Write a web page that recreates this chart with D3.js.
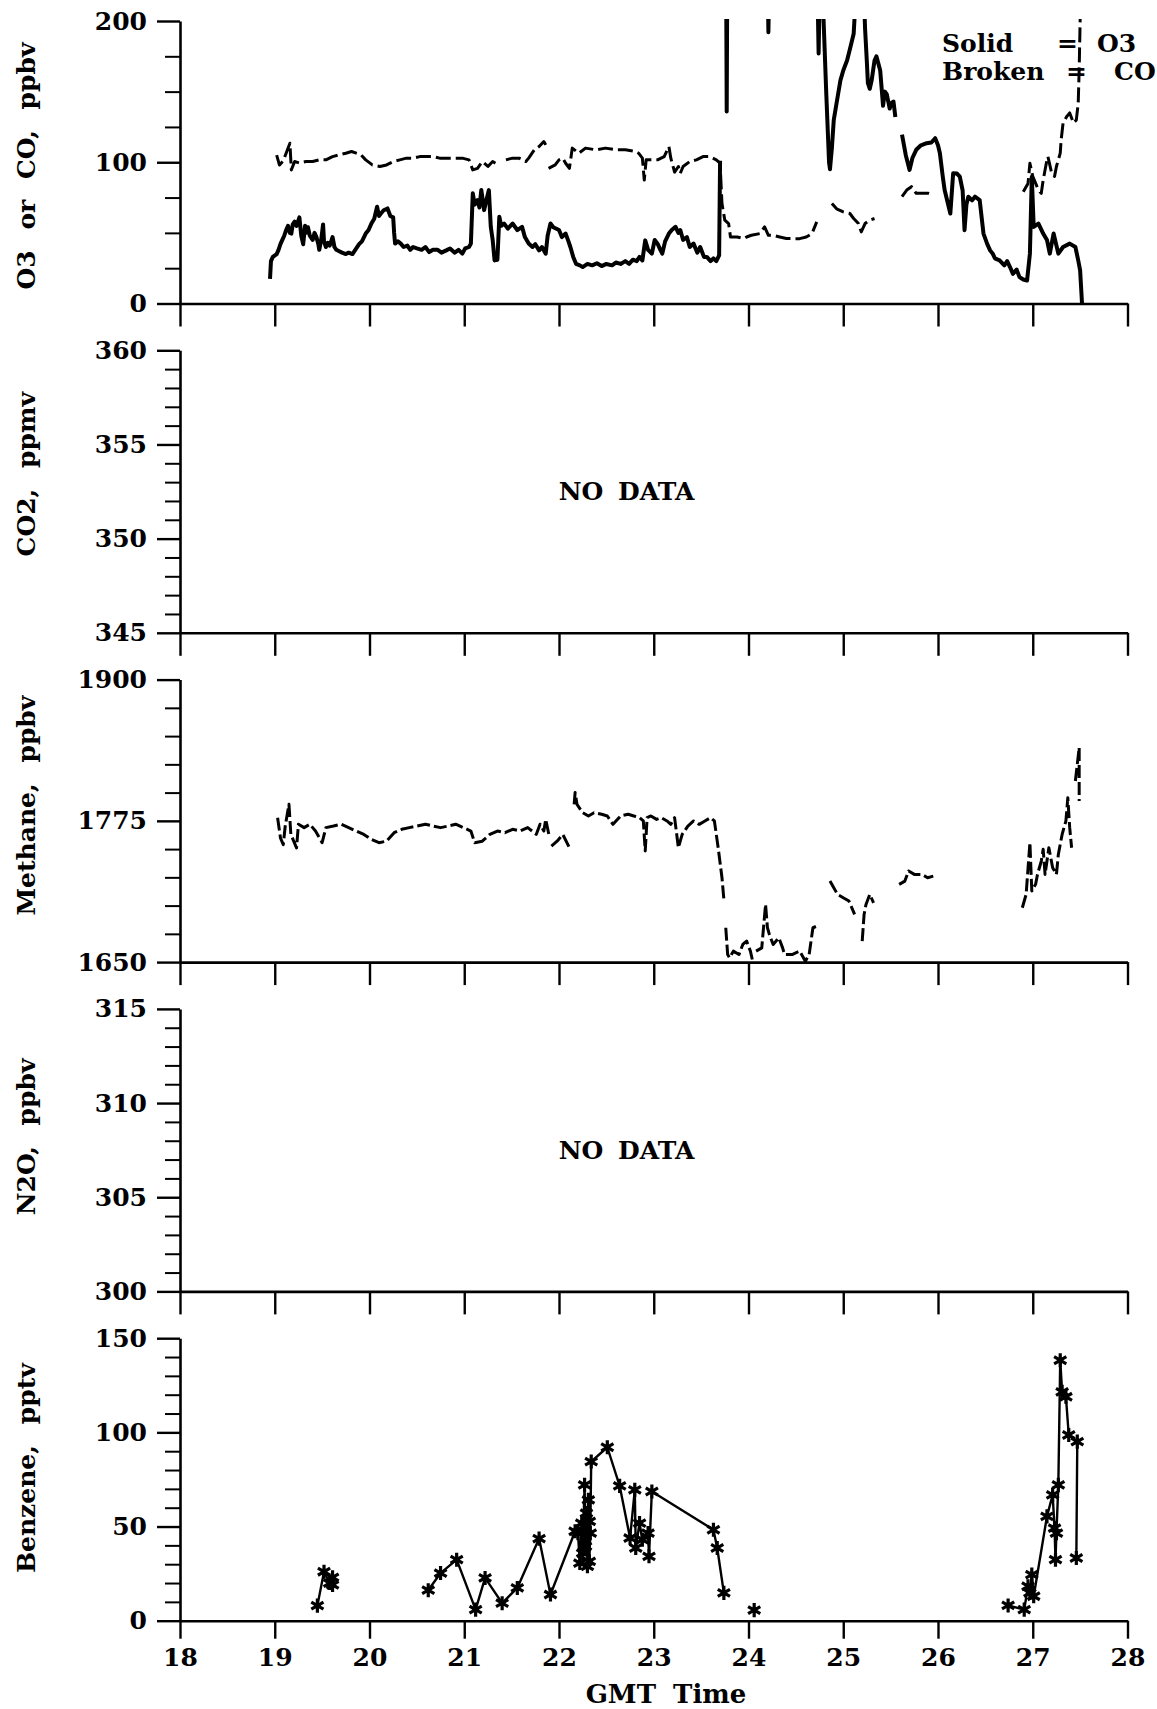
<!DOCTYPE html>
<html><head><meta charset="utf-8">
<script src="https://cdn.jsdelivr.net/npm/d3@7"></script>
<style>
html,body{margin:0;padding:0;background:#fff;}
svg{display:block;}
text{font-family:"DejaVu Serif",serif;font-weight:bold;fill:#000;}
</style></head><body>
<svg id="chart" width="1157" height="1709"></svg>
<script>
// ---------------- DATA ----------------
const xTicks = [18,19,20,21,22,23,24,25,26,27,28];
const xTitle = "GMT Time";
const panelLabels = ["O3 or CO, ppbv","CO2, ppmv","Methane, ppbv","N2O, ppbv","Benzene, pptv"];
const panelDomains = [[0,200],[345,360],[1650,1900],[300,315],[0,150]];
const majorTicks = [[0,100,200],[345,350,355,360],[1650,1775,1900],[300,305,310,315],[0,50,100,150]];
const minorSteps = [25,1,25,1,10];
const noDataPanels = [1,3];
const noDataText = "NO DATA";
const legendNames = ["Solid","Broken"];
const legendSeries = ["O3","CO"];

// O3 (solid), values above 200 are off-scale
const o3Data = [[18.95,17.5],[18.96,30],[18.98,33],[19.02,35],[19.04,38],[19.06,42],[19.08,45],[19.10,48],[19.12,52],[19.14,55],[19.16,50],[19.175,49.5],[19.19,56],[19.21,58],[19.23,55],[19.26,61],[19.28,48],[19.30,42],[19.32,55],[19.33,50],[19.35,54],[19.37,48],[19.40,45],[19.42,50],[19.44,47],[19.46,42],[19.47,38],[19.49,45],[19.51,56],[19.52,44],[19.54,40],[19.56,43],[19.58,41],[19.61,47],[19.63,40],[19.65,38],[19.68,37],[19.71,36],[19.75,35],[19.78,36],[19.82,35],[19.85,38],[19.89,42],[19.92,44],[19.96,49.5],[19.99,52],[20.02,56.6],[20.05,60],[20.08,68.5],[20.10,62],[20.12,63.7],[20.15,66],[20.19,67.3],[20.22,62],[20.25,61],[20.26,50],[20.27,42.4],[20.30,44],[20.33,42.4],[20.36,40],[20.40,41],[20.43,38],[20.46,40],[20.50,39],[20.55,38],[20.59,40],[20.63,36.4],[20.67,38],[20.72,38],[20.76,36],[20.81,37.6],[20.85,39],[20.90,36],[20.94,38],[20.98,35.3],[21.01,39],[21.05,40],[21.07,42.4],[21.09,78],[21.11,70],[21.14,73.2],[21.16,68],[21.18,80.3],[21.21,66.1],[21.23,72],[21.26,80.3],[21.28,54.3],[21.30,45],[21.32,30.5],[21.35,31],[21.37,61.4],[21.39,55],[21.42,56.6],[21.46,53],[21.51,56.6],[21.56,52],[21.61,54.3],[21.64,47],[21.68,42.4],[21.72,40],[21.75,42],[21.79,37.6],[21.82,40],[21.86,35.3],[21.88,48],[21.91,56.6],[21.94,54],[22.0,52],[22.03,47],[22.07,49.5],[22.10,44],[22.12,40],[22.15,33],[22.18,28.1],[22.22,27],[22.25,25.8],[22.30,28],[22.35,27],[22.40,28.5],[22.45,26.5],[22.50,28],[22.56,27],[22.60,29],[22.65,28],[22.70,30],[22.74,28.1],[22.78,31],[22.82,30],[22.85,33],[22.88,30.5],[22.91,44.7],[22.94,38],[22.98,35.3],[23.01,45],[23.04,42.4],[23.07,38],[23.09,35.3],[23.12,44],[23.16,49.5],[23.19,52],[23.23,54.3],[23.26,50],[23.28,52],[23.31,45],[23.35,47],[23.38,40],[23.42,42.4],[23.46,36],[23.49,40],[23.53,33],[23.56,33],[23.60,30],[23.63,32],[23.66,30],[23.69,34],[23.70,101],null,
[23.765,215],[23.77,136],[23.775,215],null,
[24.205,215],[24.21,192],[24.215,215],null,
[24.73,215],[24.74,177],[24.75,215],[24.79,205],[24.82,150],[24.85,100],[24.86,95],[24.88,110],[24.90,130],[24.94,146],[24.97,158],[25.00,165],[25.04,172],[25.07,180],[25.11,191],[25.13,215],null,
[25.22,215],[25.23,195],[25.25,170],[25.26,156],[25.28,152],[25.30,158],[25.33,172],[25.35,175],[25.37,170],[25.39,165],[25.42,140],[25.44,150],[25.46,148],[25.49,138],[25.51,142],[25.53,143],[25.55,132],null,
[25.62,119.5],[25.66,105],[25.70,94.6],[25.73,103],[25.77,108.8],[25.82,112],[25.88,113.5],[25.93,114],[25.97,117],[26.0,112],[26.02,106.4],[26.05,90],[26.07,80.3],[26.10,72],[26.13,63.7],[26.16,92.2],[26.20,92],[26.23,89.8],[26.26,80],[26.28,51.9],[26.30,70],[26.32,75.6],[26.36,73],[26.39,75.6],[26.44,73.2],[26.48,49.5],[26.52,42],[26.55,37.6],[26.58,35],[26.60,32],[26.65,30.5],[26.70,27],[26.73,30],[26.76,25.8],[26.79,21],[26.83,24],[26.86,18.7],[26.90,17],[26.94,16.3],[26.97,35.3],[26.99,89.8],[27.01,54.2],[27.06,56.6],[27.11,49.5],[27.15,45],[27.18,35.3],[27.22,49.5],[27.27,35.3],[27.32,40],[27.39,42.4],[27.45,40],[27.48,30.5],[27.50,23.4],[27.52,0]];

// CO (broken)
const coData = [[19.02,105],[19.05,98],[19.09,101],[19.12,106.4],[19.16,113.5],[19.175,94.6],[19.21,100.5],[19.26,99.5],[19.33,100.5],[19.40,100.5],[19.47,101.7],[19.54,101.7],[19.61,104],[19.68,105.2],[19.75,106.4],[19.81,107.6],[19.86,106.4],[19.91,105.2],[19.96,101.7],[20.03,98.1],[20.11,97],[20.18,98.1],[20.25,100.5],[20.32,101.7],[20.39,102.9],[20.46,102.9],[20.53,104],[20.60,104],[20.67,104],[20.74,102.9],[20.81,102.9],[20.88,102.9],[20.98,102.9],[21.05,101.7],[21.09,94.6],[21.14,95.7],[21.19,100.5],[21.25,97],[21.30,100.5],[21.33,99.3],null,
[21.44,101.7],[21.51,102.9],[21.58,102.9],[21.65,100.5],[21.68,102.9],[21.74,108.8],[21.79,111.2],[21.84,114.7],[21.86,112.3],null,
[21.89,95.7],[21.96,98.1],[22.0,101.7],[22.04,102.9],[22.07,99.3],[22.11,95.7],[22.14,110],[22.21,106.4],[22.28,110],[22.39,108.8],[22.49,110],[22.60,108.8],[22.70,108.8],[22.81,107.6],[22.84,106.4],[22.88,102.9],[22.90,87.4],[22.92,101.7],[22.98,101.7],[23.04,101.7],[23.11,104],[23.16,111.2],[23.18,102.9],[23.22,93],[23.26,97],[23.28,92.2],[23.31,97],[23.38,100.5],[23.45,101.7],[23.52,104],[23.59,104],[23.66,101.7],[23.70,99.3],[23.72,70.8],[23.75,59],[23.79,56.6],[23.81,47.1],[23.88,47.1],[23.95,46],[23.98,47.1],[24.03,48.3],[24.12,49.5],[24.17,54.2],[24.21,48.3],[24.26,48.3],[24.33,47.1],[24.40,46],[24.47,45.9],[24.54,45.9],[24.61,47.1],[24.67,49.5],[24.72,57.8],null,
[24.88,70.8],[24.93,67],[25.0,64.9],[25.07,63.7],[25.11,60.2],[25.16,56.6],[25.19,50.7],[25.23,56.6],[25.28,59],[25.33,60.2],null,
[25.62,75.6],[25.67,80.3],[25.72,82.7],[25.77,78],[25.84,78],[25.90,78],[25.95,76.8],null,
[26.90,79.1],[26.95,85],[26.97,99.3],[27.0,90],[27.06,80.3],[27.09,78],[27.11,87.4],[27.15,101.7],[27.16,104],[27.20,92.2],[27.23,90],[27.25,97],[27.29,106.4],[27.30,115.9],[27.32,127.8],[27.36,132.5],[27.39,134.9],[27.43,127.8],[27.46,130],[27.48,142],[27.49,165.7],[27.50,200],[27.505,215]];

// Methane (broken)
const methaneData = [[19.03,1777.8],[19.06,1760],[19.09,1754],[19.11,1770],[19.15,1789.6],[19.17,1763],[19.21,1755],[19.23,1751],[19.25,1772],[19.31,1769],[19.37,1772],[19.43,1766],[19.50,1755.7],[19.54,1769],[19.62,1770.4],[19.70,1772],[19.78,1769],[19.86,1766],[19.94,1763],[20.02,1758.6],[20.10,1755.7],[20.18,1757],[20.26,1764.5],[20.34,1767.5],[20.42,1769],[20.50,1770.4],[20.59,1772],[20.67,1770.4],[20.75,1769],[20.83,1770.4],[20.91,1772],[20.99,1769],[21.07,1766],[21.11,1755.7],[21.19,1757],[21.27,1763],[21.35,1766],[21.43,1764.5],[21.51,1767.5],[21.59,1766],[21.67,1769],[21.76,1763],[21.80,1772],[21.84,1766],[21.86,1776.4],[21.90,1760],null,
[21.92,1752.7],[21.98,1757],[22.04,1763],[22.11,1751.2],null,
[22.16,1789.6],[22.17,1800],[22.19,1789.6],[22.25,1782.2],[22.31,1779.3],[22.37,1782.2],[22.45,1780.8],[22.51,1779.3],[22.57,1771.9],[22.65,1779.3],[22.73,1780.8],[22.79,1779.3],[22.85,1777.8],[22.89,1774.9],[22.91,1748.3],[22.93,1777.8],[22.97,1779.3],[23.03,1776.3],[23.08,1777.8],[23.14,1774.9],[23.18,1771.9],[23.22,1777.8],[23.26,1751.2],[23.30,1763],[23.36,1770.4],[23.42,1774.9],[23.48,1771.9],[23.54,1774.9],[23.60,1777.8],[23.64,1774.9],[23.68,1751.2],[23.72,1724.7],[23.74,1705.5],null,
[23.76,1680.4],[23.78,1656.7],[23.80,1653.8],[23.84,1659.7],[23.90,1656.7],[23.94,1665.6],[23.98,1668.6],[24.02,1659.7],[24.04,1652.3],null,
[24.08,1659.7],[24.14,1662.6],[24.18,1701],[24.20,1680.4],[24.22,1674.5],[24.26,1665.6],[24.32,1671.5],[24.36,1662.6],[24.38,1656.7],[24.46,1656.7],[24.54,1659.7],[24.60,1650.8],[24.64,1656.7],[24.68,1680.4],[24.72,1681.8],null,
[24.86,1721.7],[24.90,1715.8],[24.94,1709.9],[25.00,1707],[25.06,1704],[25.12,1692.2],null,
[25.20,1668.6],[25.22,1692.2],[25.24,1701],[25.28,1709.9],[25.32,1702.5],null,
[25.59,1718.8],[25.65,1721.7],[25.69,1730.6],[25.75,1727.6],[25.83,1727.6],[25.89,1724.7],[25.95,1726.1],null,
[26.89,1698.1],[26.93,1709.9],[26.97,1755.7],[26.99,1712.9],[27.03,1718.8],[27.05,1727.6],[27.09,1739.4],[27.11,1749.8],[27.13,1727.6],[27.17,1751.2],[27.21,1733.5],[27.25,1727.6],[27.27,1745.3],[27.31,1763],[27.35,1774.9],[27.37,1795.5],[27.39,1769],[27.41,1751.2],null,
[27.45,1810.3],[27.47,1825.1],[27.49,1839.8],[27.49,1792.6]];

// Benzene (line with star markers)
const benzeneData = [[19.45,8],[19.52,26],[19.58,20],[19.61,23],[19.61,19],null,
[20.62,16.2],[20.75,25.3],[20.92,32.4],[21.12,5.9],[21.22,22.7],[21.40,9.3],[21.56,17.4],[21.79,43.6],[21.91,13.9],[22.17,47.5],[22.20,46.5],[22.22,30.6],[22.24,51.8],[22.25,35.9],[22.27,72.1],[22.28,39.5],[22.29,57.1],[22.30,28.9],[22.31,64.2],[22.32,52.7],[22.32,31.5],[22.33,46.5],[22.34,84.5],[22.51,92.1],[22.64,71.6],[22.75,43.9],[22.80,69.5],[22.81,38.6],[22.85,51.8],[22.88,43],[22.94,46.5],[22.95,34.2],[22.98,68.6],[23.63,48.3],[23.67,38.6],[23.74,14.8],null,
[24.06,5.6],null,
[26.74,8.1],[26.91,5.9],[26.95,18.3],[26.97,14.8],[26.99,24.5],[27.01,13],[27.15,55.4],[27.21,66.8],[27.23,49.2],[27.24,32.4],[27.25,46.5],[27.27,72.1],[27.29,138.3],[27.31,121.5],[27.35,118.9],[27.38,98.6],[27.47,95.1],[27.46,33.3]];

// ---------------- LAYOUT ----------------
const svg = d3.select("#chart");
const X0 = 180, X1 = 1127.5;
const panelTop0 = 21, panelStep = 329.3, panelH = 282.5;
const labelCenters = [145, 124, 126, 128, 130];
const x = d3.scaleLinear().domain([18,28]).range([X0, X1]);

const series = {
  0: [{data: o3Data, dash: null, w: 4}, {data: coData, dash: "15,5", w: 3}],
  2: [{data: methaneData, dash: "13,4", w: 3}],
  4: [{data: benzeneData, dash: null, w: 2.4, markers: true}]
};

panelDomains.forEach((dom, i) => {
  const top = panelTop0 + i*panelStep;
  const g = svg.append("g").attr("transform", `translate(0,${top})`);
  const y = d3.scaleLinear().domain(dom).range([panelH, 0]);

  const cid = "clip" + i;
  svg.append("defs").append("clipPath").attr("id", cid)
    .append("rect").attr("x", X0).attr("y", -2).attr("width", X1 - X0 + 2).attr("height", panelH + 4);

  const majors = majorTicks[i];
  const minors = d3.range(dom[0], dom[1] + 1e-9, minorSteps[i]).filter(v => !majors.some(m => Math.abs(m - v) < 1e-9));
  const gMinor = g.append("g").attr("transform", `translate(${X0},0)`)
    .call(d3.axisLeft(y).tickValues(minors).tickSize(15).tickSizeOuter(0).tickFormat(""));
  gMinor.select(".domain").remove();
  gMinor.selectAll("line").attr("stroke", "#000").attr("stroke-width", 2);

  const gY = g.append("g").attr("transform", `translate(${X0},0)`)
    .call(d3.axisLeft(y).tickValues(majors).tickSize(23).tickSizeOuter(0).tickPadding(10).tickFormat(d3.format("d")));
  gY.select(".domain").attr("stroke", "#000").attr("stroke-width", 2.6);
  gY.selectAll("line").attr("stroke", "#000").attr("stroke-width", 2.4);
  gY.selectAll("text").attr("font-size", 25).attr("font-family", "DejaVu Serif").attr("font-weight", "bold").attr("fill", "#000");

  const last = i === panelDomains.length - 1;
  const gX = g.append("g").attr("transform", `translate(0,${panelH})`)
    .call(d3.axisBottom(x).tickValues(xTicks).tickSize(last ? 18 : 23).tickSizeOuter(0).tickPadding(10)
      .tickFormat(last ? d3.format("d") : ""));
  gX.select(".domain").attr("stroke", "#000").attr("stroke-width", 2.6);
  gX.selectAll("line").attr("stroke", "#000").attr("stroke-width", 2.4);
  gX.selectAll("text").attr("font-size", 25).attr("font-family", "DejaVu Serif").attr("font-weight", "bold").attr("fill", "#000");

  g.append("text")
    .attr("transform", `translate(35,${labelCenters[i]}) rotate(-90)`)
    .attr("text-anchor", "middle")
    .attr("font-size", 25)
    .attr("word-spacing", 12)
    .text(panelLabels[i]);

  if (noDataPanels.includes(i)) {
    g.append("text").attr("x", 626.5).attr("y", 150).attr("text-anchor", "middle")
      .attr("font-size", 25).attr("word-spacing", 6).text(noDataText);
  }

  (series[i] || []).forEach(s => {
    const line = d3.line().defined(d => d != null).x(d => x(d[0])).y(d => y(d[1]));
    g.append("path").datum(s.data)
      .attr("clip-path", `url(#${cid})`)
      .attr("d", line)
      .attr("fill", "none").attr("stroke", "#000").attr("stroke-width", s.w)
      .attr("stroke-linejoin", "round")
      .attr("stroke-dasharray", s.dash);
    if (s.markers) {
      const pts = s.data.filter(d => d != null);
      const sym = d3.symbol().type(d3.symbolAsterisk).size(140);
      g.selectAll(".mk").data(pts).join("path").attr("class", "mk")
        .attr("transform", d => `translate(${x(d[0])},${y(d[1])})`)
        .attr("d", sym).attr("fill", "none").attr("stroke", "#000").attr("stroke-width", 3.2);
      g.selectAll(".mkc").data(pts).join("circle").attr("class", "mkc")
        .attr("cx", d => x(d[0])).attr("cy", d => y(d[1])).attr("r", 3).attr("fill", "#000");
    }
  });
});

svg.append("text").attr("x", 666).attr("y", 1703).attr("text-anchor", "middle")
  .attr("font-size", 26).attr("word-spacing", 8).text(xTitle);

const lg = svg.append("g").attr("font-size", 25);
legendNames.forEach((nm, k) => {
  const by = 52 + k*28;
  lg.append("text").attr("x", 942).attr("y", by).text(nm);
  lg.append("text").attr("x", k === 0 ? 1057 : 1066).attr("y", by).text("=");
  lg.append("text").attr("x", k === 0 ? 1097 : 1114).attr("y", by).text(legendSeries[k]);
});
</script>
</body></html>
